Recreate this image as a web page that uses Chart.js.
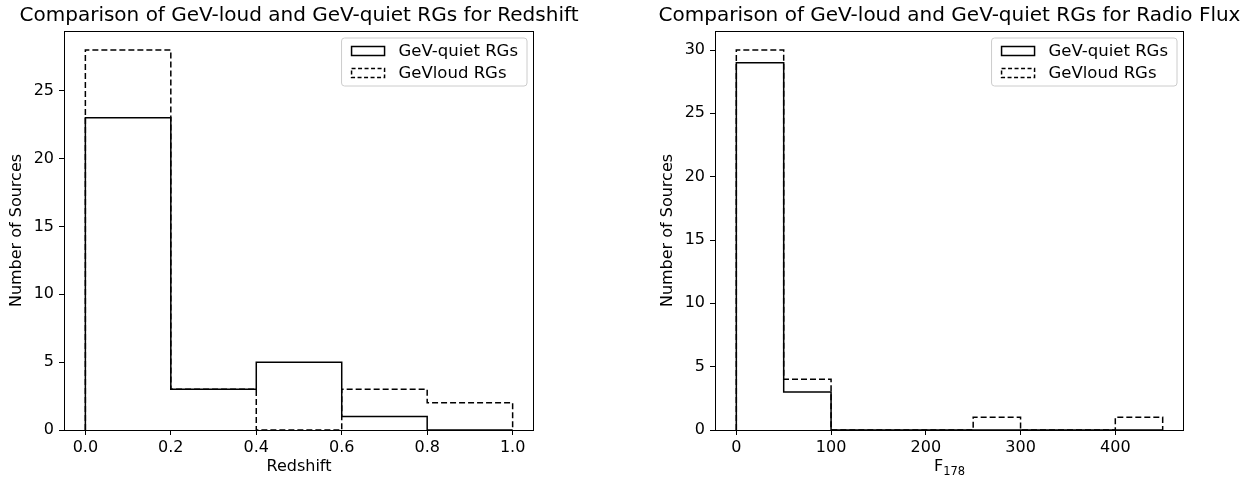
<!DOCTYPE html>
<html>
<head>
<meta charset="utf-8">
<title>GeV-loud vs GeV-quiet RGs</title>
<script src="https://cdn.jsdelivr.net/npm/chart.js@4/dist/chart.umd.min.js"></script>
<style>
  html, body { margin: 0; padding: 0; background: #ffffff; }
  #wrap { position: relative; width: 1260px; height: 477px; overflow: hidden; }
  .panel { position: absolute; top: 0; width: 630px; height: 477px; }
</style>
</head>
<body>
<div id="wrap">
  <div class="panel" style="left:0px"><canvas id="zChart"></canvas></div>
  <div class="panel" style="left:630px"><canvas id="fChart"></canvas></div>
</div>
<script>
// ---- Redshift histogram: bin edges and counts per bin ----
const zEdges = [0.0, 0.2, 0.4, 0.6, 0.8, 1.0];
const zQuiet = [23, 3, 5, 1, 0];
const zLoud  = [28, 3, 0, 3, 2];
const zTicks = [0.0, 0.2, 0.4, 0.6, 0.8, 1.0];
const zCountTicks = [0, 5, 10, 15, 20, 25];

// ---- 178 MHz radio flux histogram ----
const fEdges = [0, 50, 100, 150, 200, 250, 300, 350, 400, 450];
const fQuiet = [29, 3, 0, 0, 0, 0, 0, 0, 0];
const fLoud  = [30, 4, 0, 0, 0, 1, 0, 0, 1];
const fTicks = [0, 100, 200, 300, 400];
const fCountTicks = [0, 5, 10, 15, 20, 25, 30];

const seriesLabels = ['GeV-quiet RGs', 'GeVloud RGs'];
const titles = [
  'Comparison of GeV-loud and GeV-quiet RGs for Redshift',
  'Comparison of GeV-loud and GeV-quiet RGs for Radio Flux'
];
const yLabel = 'Number of Sources';

const FONT = "'DejaVu Sans', 'Liberation Sans', sans-serif";
const DASH = [6, 3];

// Outline of a step histogram: up from the first edge, across each bin, down at the last edge.
function stepOutline(edges, counts) {
  const pts = [{ x: edges[0], y: 0 }];
  counts.forEach((c, i) => pts.push({ x: edges[i], y: c }));
  pts.push({ x: edges[counts.length], y: counts[counts.length - 1] });
  pts.push({ x: edges[counts.length], y: 0 });
  return pts;
}

// Axes frame, titles, axis labels and legend box.
const decorations = {
  id: 'decorations',
  afterDraw(chart, args, opts) {
    const { ctx, chartArea: a } = chart;
    ctx.save();
    // frame on all four sides
    ctx.strokeStyle = '#000';
    ctx.lineWidth = 1;
    ctx.setLineDash([]);
    ctx.strokeRect(a.left + 0.5, a.top + 0.5, a.right - a.left - 1, a.bottom - a.top);

    const cx = (a.left + a.right) / 2;
    ctx.fillStyle = '#000';
    ctx.textAlign = 'center';
    ctx.textBaseline = 'alphabetic';

    // title
    ctx.font = '20px ' + FONT;
    ctx.fillText(opts.title, cx, 21);

    // x label (optionally with a subscript)
    if (opts.xSub) {
      ctx.font = '16px ' + FONT;
      const w1 = ctx.measureText(opts.xLabel).width;
      ctx.font = '11.5px ' + FONT;
      const w2 = ctx.measureText(opts.xSub).width;
      const x0 = cx - (w1 + w2) / 2;
      ctx.textAlign = 'left';
      ctx.font = '16px ' + FONT;
      ctx.fillText(opts.xLabel, x0, 471);
      ctx.font = '11.5px ' + FONT;
      ctx.fillText(opts.xSub, x0 + w1, 475);
      ctx.textAlign = 'center';
    } else {
      ctx.font = '16px ' + FONT;
      ctx.fillText(opts.xLabel, cx, 471);
    }

    // y label
    ctx.save();
    ctx.translate(opts.yLabelX, (a.top + a.bottom) / 2);
    ctx.rotate(-Math.PI / 2);
    ctx.font = '16px ' + FONT;
    ctx.fillText(yLabel, 0, 0);
    ctx.restore();

    // legend
    ctx.font = '16.5px ' + FONT;
    const textW = Math.max(...seriesLabels.map(s => ctx.measureText(s).width));
    const padL = 10, handleW = 33, gap = 14, padR = 9;
    const boxW = padL + handleW + gap + textW + padR;
    const boxR = a.right - 7, boxT = a.top + 7, boxH = 48;
    const boxL = boxR - boxW;
    const r = 3;
    ctx.beginPath();
    ctx.moveTo(boxL + r, boxT);
    ctx.arcTo(boxR, boxT, boxR, boxT + boxH, r);
    ctx.arcTo(boxR, boxT + boxH, boxL, boxT + boxH, r);
    ctx.arcTo(boxL, boxT + boxH, boxL, boxT, r);
    ctx.arcTo(boxL, boxT, boxR, boxT, r);
    ctx.closePath();
    ctx.fillStyle = 'rgba(255,255,255,0.8)';
    ctx.fill();
    ctx.strokeStyle = '#cccccc';
    ctx.lineWidth = 1;
    ctx.stroke();

    seriesLabels.forEach((lab, i) => {
      const rowY = boxT + 13 + i * 22;
      ctx.setLineDash(i === 0 ? [] : [4, 2.5]);
      ctx.strokeStyle = '#000';
      ctx.lineWidth = 1.5;
      ctx.strokeRect(boxL + padL, rowY - 4.5, handleW, 9);
      ctx.setLineDash([]);
      ctx.fillStyle = '#000';
      ctx.textAlign = 'left';
      ctx.textBaseline = 'middle';
      ctx.fillText(lab, boxL + padL + handleW + gap, rowY + 1);
    });
    ctx.restore();
  }
};

function makeChart(id, cfg) {
  const tickFont = { family: FONT, size: 16 };
  return new Chart(document.getElementById(id), {
    type: 'line',
    data: {
      datasets: [
        {
          label: seriesLabels[0],
          data: stepOutline(cfg.edges, cfg.quiet),
          stepped: 'before',
          borderColor: '#000',
          borderWidth: 1.5,
          pointRadius: 0,
          fill: false
        },
        {
          label: seriesLabels[1],
          data: stepOutline(cfg.edges, cfg.loud),
          stepped: 'before',
          borderColor: '#000',
          borderWidth: 1.5,
          borderDash: DASH,
          pointRadius: 0,
          fill: false
        }
      ]
    },
    options: {
      responsive: false,
      animation: false,
      devicePixelRatio: 1,
      layout: { padding: { left: 0, top: cfg.top, right: cfg.padRight, bottom: 0 } },
      plugins: {
        legend: { display: false },
        tooltip: { enabled: false },
        decorations: {
          title: cfg.title,
          xLabel: cfg.xLabel,
          xSub: cfg.xSub,
          yLabelX: cfg.yLabelX
        }
      },
      scales: {
        x: {
          type: 'linear',
          min: cfg.xMin,
          max: cfg.xMax,
          afterBuildTicks: s => { s.ticks = cfg.xTicks.map(v => ({ value: v })); },
          afterFit: s => { s.height = 47; },
          ticks: {
            font: tickFont,
            color: '#000',
            padding: 3,
            maxRotation: 0,
            autoSkip: false,
            callback: cfg.xFmt
          },
          grid: { drawOnChartArea: false, drawTicks: true, tickLength: 5, color: '#000', lineWidth: 1 },
          border: { display: false }
        },
        y: {
          type: 'linear',
          min: 0,
          max: cfg.yMax,
          afterBuildTicks: s => { s.ticks = cfg.yTicks.map(v => ({ value: v })); },
          afterFit: s => { s.width = cfg.yWidth; },
          ticks: { font: tickFont, color: '#000', padding: 5, autoSkip: false },
          grid: { drawOnChartArea: false, drawTicks: true, tickLength: 5, color: '#000', lineWidth: 1 },
          border: { display: false }
        }
      }
    },
    plugins: [decorations]
  });
}

function sizeCanvas(id) {
  const c = document.getElementById(id);
  c.width = 630; c.height = 477;
  c.style.width = '630px'; c.style.height = '477px';
}
sizeCanvas('zChart');
sizeCanvas('fChart');

makeChart('zChart', {
  edges: zEdges, quiet: zQuiet, loud: zLoud,
  xMin: -0.05, xMax: 1.05, xTicks: zTicks,
  xFmt: v => v.toFixed(1),
  yMax: 29.4, yTicks: zCountTicks,
  yWidth: 64, padRight: 96, top: 31,
  title: titles[0], xLabel: 'Redshift', xSub: null, yLabelX: 21
});

makeChart('fChart', {
  edges: fEdges, quiet: fQuiet, loud: fLoud,
  xMin: -22.5, xMax: 472.5, xTicks: fTicks,
  xFmt: v => String(v),
  yMax: 31.5, yTicks: fCountTicks,
  yWidth: 85, padRight: 76, top: 31,
  title: titles[1], xLabel: 'F', xSub: '178', yLabelX: 42
});
</script>
</body>
</html>
